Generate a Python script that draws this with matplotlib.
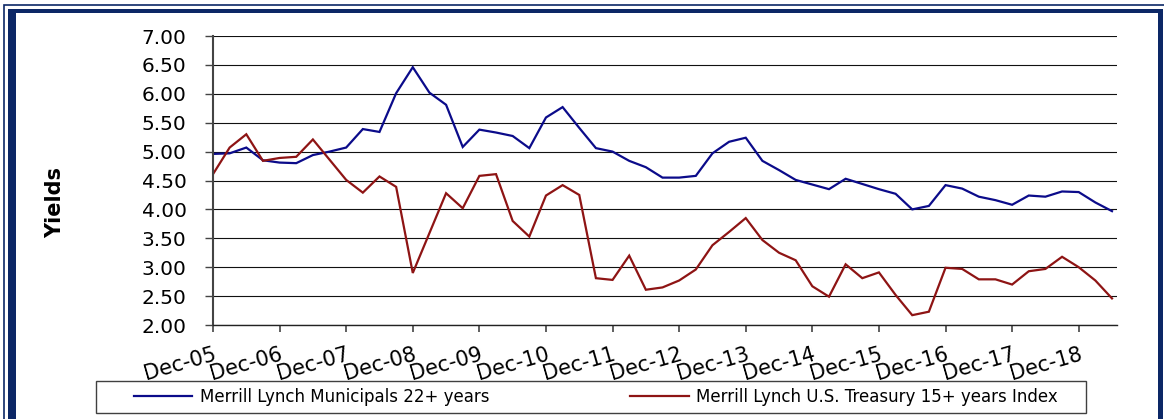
import matplotlib
matplotlib.use("Agg")
import matplotlib.pyplot as plt
from matplotlib.patches import Rectangle
from matplotlib.transforms import ScaledTranslation
from matplotlib.ticker import FormatStrFormatter
import numpy as np
import pandas as pd

# Quarterly observations, Dec-05 through Jun-19
quarters = pd.period_range("2005Q4", "2019Q2", freq="Q")

muni_22 = [4.96, 4.97, 5.07, 4.85, 4.81, 4.80, 4.94, 5.00, 5.07,
           5.39, 5.34, 6.01, 6.46, 6.02, 5.81, 5.08, 5.38, 5.33,
           5.27, 5.06, 5.59, 5.77, 5.41, 5.06, 5.00, 4.84, 4.73,
           4.55, 4.55, 4.58, 4.97, 5.17, 5.24, 4.84, 4.68, 4.51,
           4.43, 4.35, 4.53, 4.44, 4.35, 4.27, 4.00, 4.06, 4.42,
           4.36, 4.22, 4.16, 4.08, 4.24, 4.22, 4.31, 4.30, 4.12, 3.97]

treasury_15 = [4.61, 5.07, 5.30, 4.84, 4.89, 4.91, 5.21, 4.86, 4.51,
               4.29, 4.57, 4.39, 2.90, 3.59, 4.28, 4.02, 4.58, 4.61,
               3.80, 3.53, 4.24, 4.42, 4.25, 2.81, 2.78, 3.20, 2.61,
               2.65, 2.77, 2.96, 3.38, 3.61, 3.85, 3.47, 3.25, 3.12,
               2.67, 2.49, 3.05, 2.81, 2.91, 2.52, 2.17, 2.23, 2.99,
               2.97, 2.79, 2.79, 2.70, 2.93, 2.97, 3.18, 3.00, 2.77, 2.46]

series_names = ["Merrill Lynch Municipals 22+ years",
                "Merrill Lynch U.S. Treasury 15+ years Index"]
y_ticks = np.arange(2.0, 7.01, 0.5)
y_label = "Yields"

BLUE = "#0b0b8a"
RED = "#8e1414"
NAVY = "#0c2766"

W, H = 1164, 419
fig = plt.figure(figsize=(W / 100, H / 100), dpi=100)
fig.patch.set_facecolor("white")


def px_rect(x0, y0, x1, y1, **kw):
    """Rectangle given in pixel coordinates measured from the top-left corner."""
    return Rectangle((x0 / W, 1 - y1 / H), (x1 - x0) / W, (y1 - y0) / H,
                     transform=fig.transFigure, **kw)


# Double navy frame around the whole chart
fig.add_artist(px_rect(3.5, 5.5, 1172, 430, fill=False, edgecolor=NAVY, lw=1.2))
fig.add_artist(px_rect(8, 9, 16, 425, facecolor=NAVY, edgecolor="none"))
fig.add_artist(px_rect(8, 9, 1163, 13.5, facecolor=NAVY, edgecolor="none"))
fig.add_artist(px_rect(1157.5, 9, 1163, 425, facecolor=NAVY, edgecolor="none"))

ax = fig.add_axes([213 / W, 1 - 325 / H, (1117 - 213) / W, (325 - 36) / H])

x = np.arange(len(quarters))
l1, = ax.plot(x, muni_22, color=BLUE, lw=1.6, solid_joinstyle="miter")
l2, = ax.plot(x, treasury_15, color=RED, lw=1.6, solid_joinstyle="miter")

ax.set_xlim(0, 54.3)
ax.set_ylim(y_ticks[0], y_ticks[-1])
ax.set_yticks(y_ticks)
ax.yaxis.set_major_formatter(FormatStrFormatter("%.2f"))

dec_idx = [i for i, q in enumerate(quarters) if q.quarter == 4]
ax.set_xticks(dec_idx)
ax.set_xticklabels([quarters[i].end_time.strftime("%b-%y") for i in dec_idx],
                   rotation=16, ha="right", va="top", rotation_mode="anchor",
                   fontsize=15)
shift = ScaledTranslation(5 / 100, 0, fig.dpi_scale_trans)
for lab in ax.get_xticklabels():
    lab.set_transform(lab.get_transform() + shift)

ax.tick_params(axis="x", direction="out", length=5, width=1.2,
               color="#444444", pad=9)
ax.tick_params(axis="y", direction="out", length=6, width=1.0,
               color="#444444", pad=13, labelsize=14.5)

ax.yaxis.grid(True, color="#111111", lw=0.8)
ax.set_axisbelow(True)
for side in ("top", "right"):
    ax.spines[side].set_visible(False)
ax.spines["left"].set_color("#444444")
ax.spines["left"].set_linewidth(1.5)
ax.spines["bottom"].set_color("#222222")
ax.spines["bottom"].set_linewidth(1.0)

fig.text(55 / W, 1 - 202 / H, y_label, rotation=90, fontsize=15,
         fontweight="bold", ha="center", va="center")

# Legend row with its own frame
fig.add_artist(px_rect(96, 381, 1086, 413, fill=False, edgecolor="#404040", lw=1.0))
fig.legend([l1, l2], series_names, loc="center",
           bbox_to_anchor=(134 / W, 1 - 413 / H, (1058 - 134) / W, 32 / H),
           mode="expand", ncol=2, frameon=False, borderpad=0, borderaxespad=0,
           handlelength=3.5, handletextpad=0.45, fontsize=12)

fig.savefig("out.png", dpi=100, facecolor="white")
